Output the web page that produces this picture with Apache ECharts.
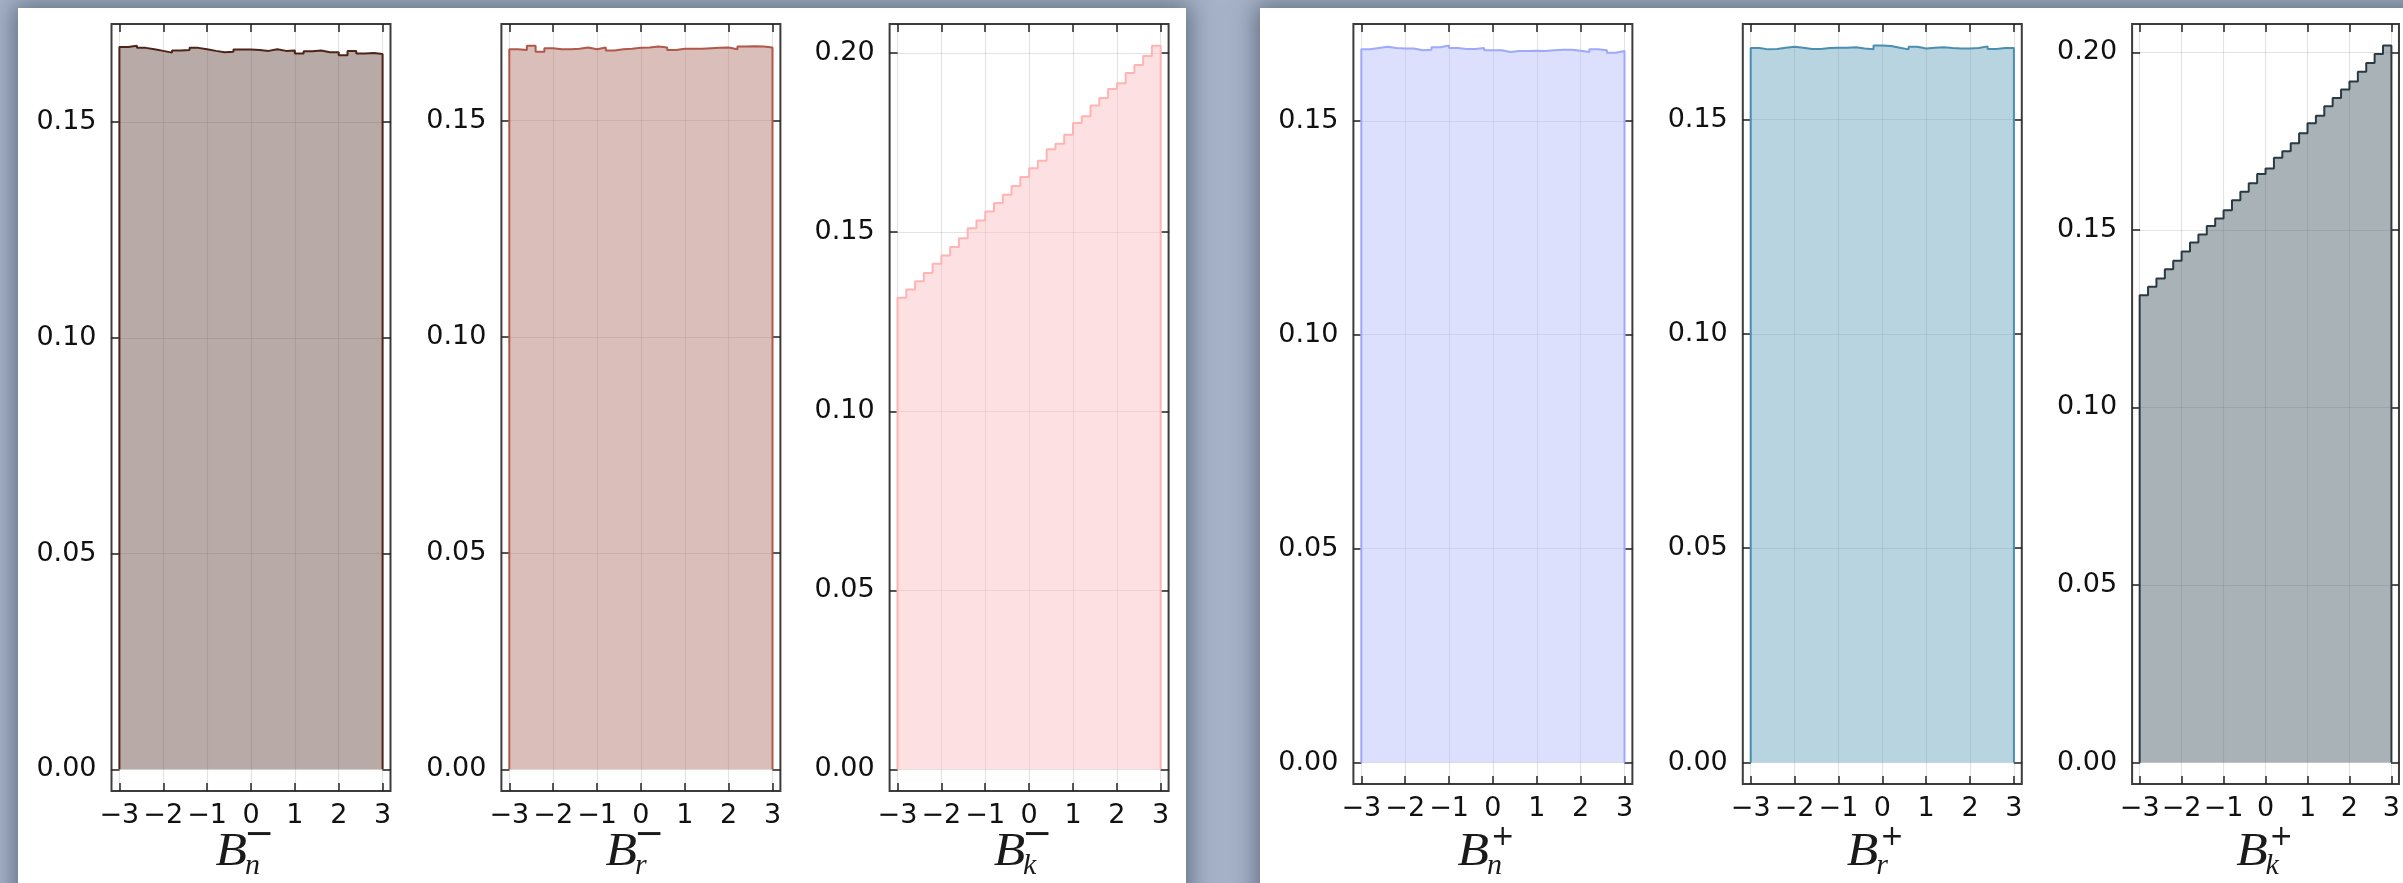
<!DOCTYPE html>
<html>
<head>
<meta charset="utf-8">
<script src="https://cdn.jsdelivr.net/npm/echarts@6/dist/echarts.min.js"></script>
<style>
html, body { margin: 0; padding: 0; width: 2403px; height: 883px; overflow: hidden; background: #a5b2c7; }
.sheet { position: absolute; background: #fff; box-shadow: 0 0 22px 4px rgba(45, 55, 75, 0.55); }
#sheetMinus { left: 18px; top: 8px; width: 1168px; height: 920px; }
#sheetPlus { left: 1260px; top: 8px; width: 1200px; height: 920px; }
#chart { position: absolute; left: 0; top: 0; width: 2403px; height: 883px; }
</style>
</head>
<body>
<div class="sheet" id="sheetMinus"></div>
<div class="sheet" id="sheetPlus"></div>
<div id="chart"></div>
<script>
// Histogram bins: 30 equal bins on [-3, 3]
const binLo = -3;
const binHi = 3;

// Normalised bin heights, one array per variable
const densBnMinus = [0.1674, 0.1677, 0.1672, 0.1669, 0.1665, 0.1661, 0.1666, 0.1667, 0.1672, 0.1669,
                     0.1665, 0.1662, 0.1663, 0.1668, 0.1668, 0.1667, 0.1665, 0.1669, 0.1665, 0.1666,
                     0.1659, 0.1664, 0.1666, 0.1662, 0.1662, 0.1655, 0.1665, 0.1659, 0.1660, 0.1658];
const densBrMinus = [0.1665, 0.1663, 0.1673, 0.1659, 0.1667, 0.1665, 0.1665, 0.1666, 0.1669, 0.1665,
                     0.1669, 0.1662, 0.1665, 0.1666, 0.1668, 0.1669, 0.1671, 0.1669, 0.1663, 0.1666,
                     0.1666, 0.1666, 0.1667, 0.1668, 0.1669, 0.1665, 0.1671, 0.1672, 0.1671, 0.1669];
const densBkMinus = [0.1317, 0.1340, 0.1363, 0.1386, 0.1412, 0.1435, 0.1459, 0.1483, 0.1511, 0.1533,
                     0.1558, 0.1582, 0.1605, 0.1629, 0.1654, 0.1679, 0.1700, 0.1732, 0.1747, 0.1772,
                     0.1805, 0.1824, 0.1854, 0.1875, 0.1900, 0.1916, 0.1945, 0.1967, 0.1992, 0.2021];
const densBnPlus  = [0.1667, 0.1670, 0.1673, 0.1670, 0.1669, 0.1669, 0.1665, 0.1666, 0.1672, 0.1676,
                     0.1670, 0.1668, 0.1668, 0.1670, 0.1665, 0.1665, 0.1661, 0.1663, 0.1663, 0.1664,
                     0.1663, 0.1665, 0.1666, 0.1666, 0.1664, 0.1661, 0.1667, 0.1665, 0.1659, 0.1663];
const densBrPlus  = [0.1667, 0.1664, 0.1665, 0.1668, 0.1670, 0.1668, 0.1665, 0.1665, 0.1667, 0.1668,
                     0.1668, 0.1669, 0.1666, 0.1664, 0.1673, 0.1672, 0.1668, 0.1664, 0.1670, 0.1666,
                     0.1668, 0.1669, 0.1667, 0.1666, 0.1666, 0.1667, 0.1671, 0.1665, 0.1667, 0.1667];
const densBkPlus  = [0.1316, 0.1340, 0.1363, 0.1389, 0.1413, 0.1439, 0.1464, 0.1487, 0.1511, 0.1532,
                     0.1555, 0.1583, 0.1607, 0.1631, 0.1657, 0.1673, 0.1703, 0.1721, 0.1744, 0.1772,
                     0.1800, 0.1821, 0.1848, 0.1871, 0.1895, 0.1918, 0.1945, 0.1970, 0.1995, 0.2019];

// Tick positions
const xTickValues = [-3, -2, -1, 0, 1, 2, 3];
const yTicksFlat = [0, 0.05, 0.10, 0.15];
const yTicksSlope = [0, 0.05, 0.10, 0.15, 0.20];

// One entry per subplot: data, placement and colours
const plots = [
  { values: densBnMinus, sub: 'n', sup: '\u2212', left: 111.5, top: 24, height: 767, ticks: yTicksFlat,
    line: '#4e2418', fill: 'rgba(113,85,77,0.5)' },
  { values: densBrMinus, sub: 'r', sup: '\u2212', left: 501.4, top: 24, height: 767, ticks: yTicksFlat,
    line: '#b0584a', fill: 'rgba(181,125,115,0.5)' },
  { values: densBkMinus, sub: 'k', sup: '\u2212', left: 889.6, top: 24, height: 767, ticks: yTicksSlope,
    line: '#ffb4b4', fill: 'rgba(251,193,195,0.5)' },
  { values: densBnPlus, sub: 'n', sup: '+', left: 1353.4, top: 24, height: 760, ticks: yTicksFlat,
    line: '#9ea9fb', fill: 'rgba(185,193,249,0.5)' },
  { values: densBrPlus, sub: 'r', sup: '+', left: 1742.8, top: 24, height: 760, ticks: yTicksFlat,
    line: '#4a8fb0', fill: 'rgba(111,169,193,0.5)' },
  { values: densBkPlus, sub: 'k', sup: '+', left: 2132.1, top: 24, height: 760, ticks: yTicksSlope,
    line: '#2a3a44', fill: 'rgba(83,101,109,0.5)' }
];
const plotWidth = 279;

// Axis limits widened by 3% of the data span on each side
const xSpan = binHi - binLo;
const xMin = binLo - 0.03 * xSpan;
const xMax = binHi + 0.03 * xSpan;

// Outline of a filled step histogram, closed down to zero at both ends
function stepOutline(values) {
  const w = (binHi - binLo) / values.length;
  const pts = [[binLo, 0]];
  values.forEach((v, i) => pts.push([binLo + i * w, v]));
  pts.push([binHi, values[values.length - 1]]);
  pts.push([binHi, 0]);
  return pts;
}

const tickFont = { fontFamily: 'DejaVu Sans', fontSize: 27, color: '#111' };
const minusSign = v => (v < 0 ? '\u2212' + Math.abs(v) : String(v));

const option = { animation: false, grid: [], xAxis: [], yAxis: [], series: [], graphic: [] };

plots.forEach((p, i) => {
  const yMax = Math.max(...p.values);
  const yLo = -0.03 * yMax;
  const yHi = yMax * 1.03;

  option.grid.push({
    left: p.left, top: p.top, width: plotWidth, height: p.height,
    show: true, borderColor: '#3c3c3c', borderWidth: 2, backgroundColor: 'transparent'
  });

  const tickStyle = { show: true, inside: true, length: 8, lineStyle: { color: '#222', width: 1.5 } };
  const gridStyle = { show: true, lineStyle: { color: 'rgba(0,0,0,0.11)', width: 1.2 } };

  // bottom and top x axes
  option.xAxis.push({
    type: 'value', gridIndex: i, position: 'bottom', min: xMin, max: xMax,
    axisLine: { show: false, onZero: false },
    axisTick: Object.assign({ customValues: xTickValues }, tickStyle),
    axisLabel: Object.assign({ customValues: xTickValues, margin: 11, formatter: minusSign }, tickFont),
    splitLine: gridStyle
  });
  option.xAxis.push({
    type: 'value', gridIndex: i, position: 'top', min: xMin, max: xMax,
    axisLine: { show: false, onZero: false },
    axisTick: Object.assign({ customValues: xTickValues }, tickStyle),
    axisLabel: { show: false }, splitLine: { show: false }
  });
  // left and right y axes
  option.yAxis.push({
    type: 'value', gridIndex: i, position: 'left', min: yLo, max: yHi,
    axisLine: { show: false, onZero: false },
    axisTick: Object.assign({ customValues: p.ticks }, tickStyle),
    axisLabel: Object.assign({ customValues: p.ticks, margin: 15, formatter: v => v.toFixed(2) }, tickFont),
    splitLine: gridStyle
  });
  option.yAxis.push({
    type: 'value', gridIndex: i, position: 'right', min: yLo, max: yHi,
    axisLine: { show: false, onZero: false },
    axisTick: Object.assign({ customValues: p.ticks }, tickStyle),
    axisLabel: { show: false }, splitLine: { show: false }
  });

  option.series.push({
    type: 'line', xAxisIndex: 2 * i, yAxisIndex: 2 * i, step: 'end',
    data: stepOutline(p.values), showSymbol: false, symbol: 'none',
    lineStyle: { color: p.line, width: 2 },
    areaStyle: { color: p.fill, opacity: 1, origin: 0 },
    silent: true
  });

  // axis title B_sub^sup
  const cx = p.left + plotWidth / 2;
  const isMinus = p.sup !== '+';
  option.graphic.push(
    { type: 'text', x: cx - 4, y: 853, scaleX: 1.12,
      style: { text: 'B', font: 'italic 46px "Liberation Serif"', fill: '#1a1a1a', align: 'right', verticalAlign: 'middle' } },
    { type: 'text', x: cx - 6, y: 866,
      style: { text: p.sub, font: 'italic 30px "Liberation Serif"', fill: '#1a1a1a', align: 'left', verticalAlign: 'middle' } },
    { type: 'text', x: isMinus ? cx - 7 : cx - 2, y: isMinus ? 836 : 838,
      style: { text: p.sup, font: (isMinus ? '36px' : '28px') + ' "DejaVu Sans"', fill: '#1a1a1a', align: 'left', verticalAlign: 'middle' } }
  );
});

const chart = echarts.init(document.getElementById('chart'), null, { renderer: 'canvas', width: 2403, height: 883 });
chart.setOption(option);
</script>
</body>
</html>
